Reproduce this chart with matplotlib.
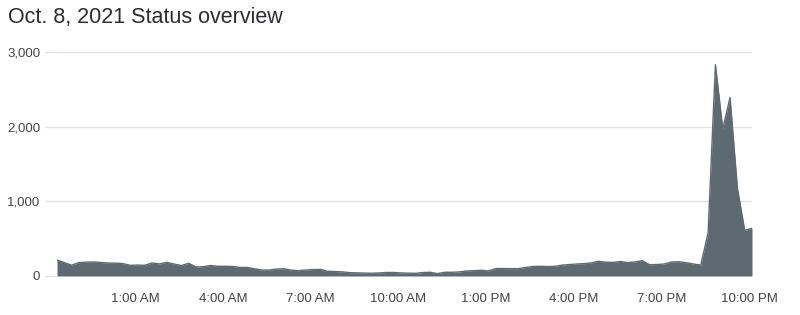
import numpy as np
import matplotlib
matplotlib.use("Agg")
import matplotlib.pyplot as plt
from matplotlib.ticker import FuncFormatter

title = "Oct. 8, 2021 Status overview"

# 15-minute samples, starting 10:20 PM the previous day (hours from midnight)
start_hour = -5 / 3
step_hours = 0.25

values = [
    215, 179, 145, 180, 185, 188, 180, 174, 172, 166,
    143, 146, 144, 174, 162, 183, 160, 140, 170, 121,
    125, 141, 130, 130, 128, 114, 115, 96, 80, 80,
    93, 97, 79, 71, 80, 86, 88, 63, 60, 55,
    45, 42, 39, 37, 41, 47, 47, 41, 38, 36,
    46, 50, 32, 50, 50, 55, 67, 72, 76, 68,
    100, 100, 98, 98, 113, 127, 130, 127, 128, 145,
    153, 160, 165, 175, 197, 186, 182, 195, 179, 188,
    205, 151, 154, 160, 187, 191, 178, 160, 147, 580,
    2830, 1970, 2390, 1180, 610, 640,
]

tick_hours = [1, 4, 7, 10, 13, 16, 19, 22]
tick_labels = ["1:00 AM", "4:00 AM", "7:00 AM", "10:00 AM",
               "1:00 PM", "4:00 PM", "7:00 PM", "10:00 PM"]
y_ticks = [0, 1000, 2000, 3000]

hours = start_hour + step_hours * np.arange(len(values))

plt.rcParams['font.family'] = ['Liberation Sans', 'DejaVu Sans']

fig = plt.figure(figsize=(8, 3.15), dpi=100)
ax = fig.add_axes([57 / 800, 1 - 276 / 315, (752 - 57) / 800, (276 - 52) / 315])

fill_color = "#5e6a72"
ax.fill_between(hours, values, 0, color=fill_color, linewidth=0, zorder=3)
ax.plot(hours, values, color=fill_color, linewidth=1.0, zorder=3)

ax.set_xlim(hours[0], hours[-1])
ax.set_ylim(0, 3000)

ax.set_yticks(y_ticks)
ax.yaxis.set_major_formatter(FuncFormatter(lambda v, p: f"{int(v):,}"))
ax.set_xticks(tick_hours)
ax.set_xticklabels(tick_labels)

grid_color = "#e3e3e3"
ax.grid(axis="y", color=grid_color, linewidth=1.0, zorder=0)
ax.grid(axis="x", visible=False)
for s in ax.spines.values():
    s.set_visible(False)

ax.tick_params(axis="y", length=9, width=1.0, color=grid_color, pad=3,
               labelsize=9.5, labelcolor="#444444")
ax.tick_params(axis="x", length=0, pad=12, labelsize=9.5, labelcolor="#444444")

fig.text(8 / 800, 1 - 17 / 315, title, fontsize=15.5, color="#2a2e32",
         ha="left", va="center")

fig.savefig("out.png", dpi=100)
